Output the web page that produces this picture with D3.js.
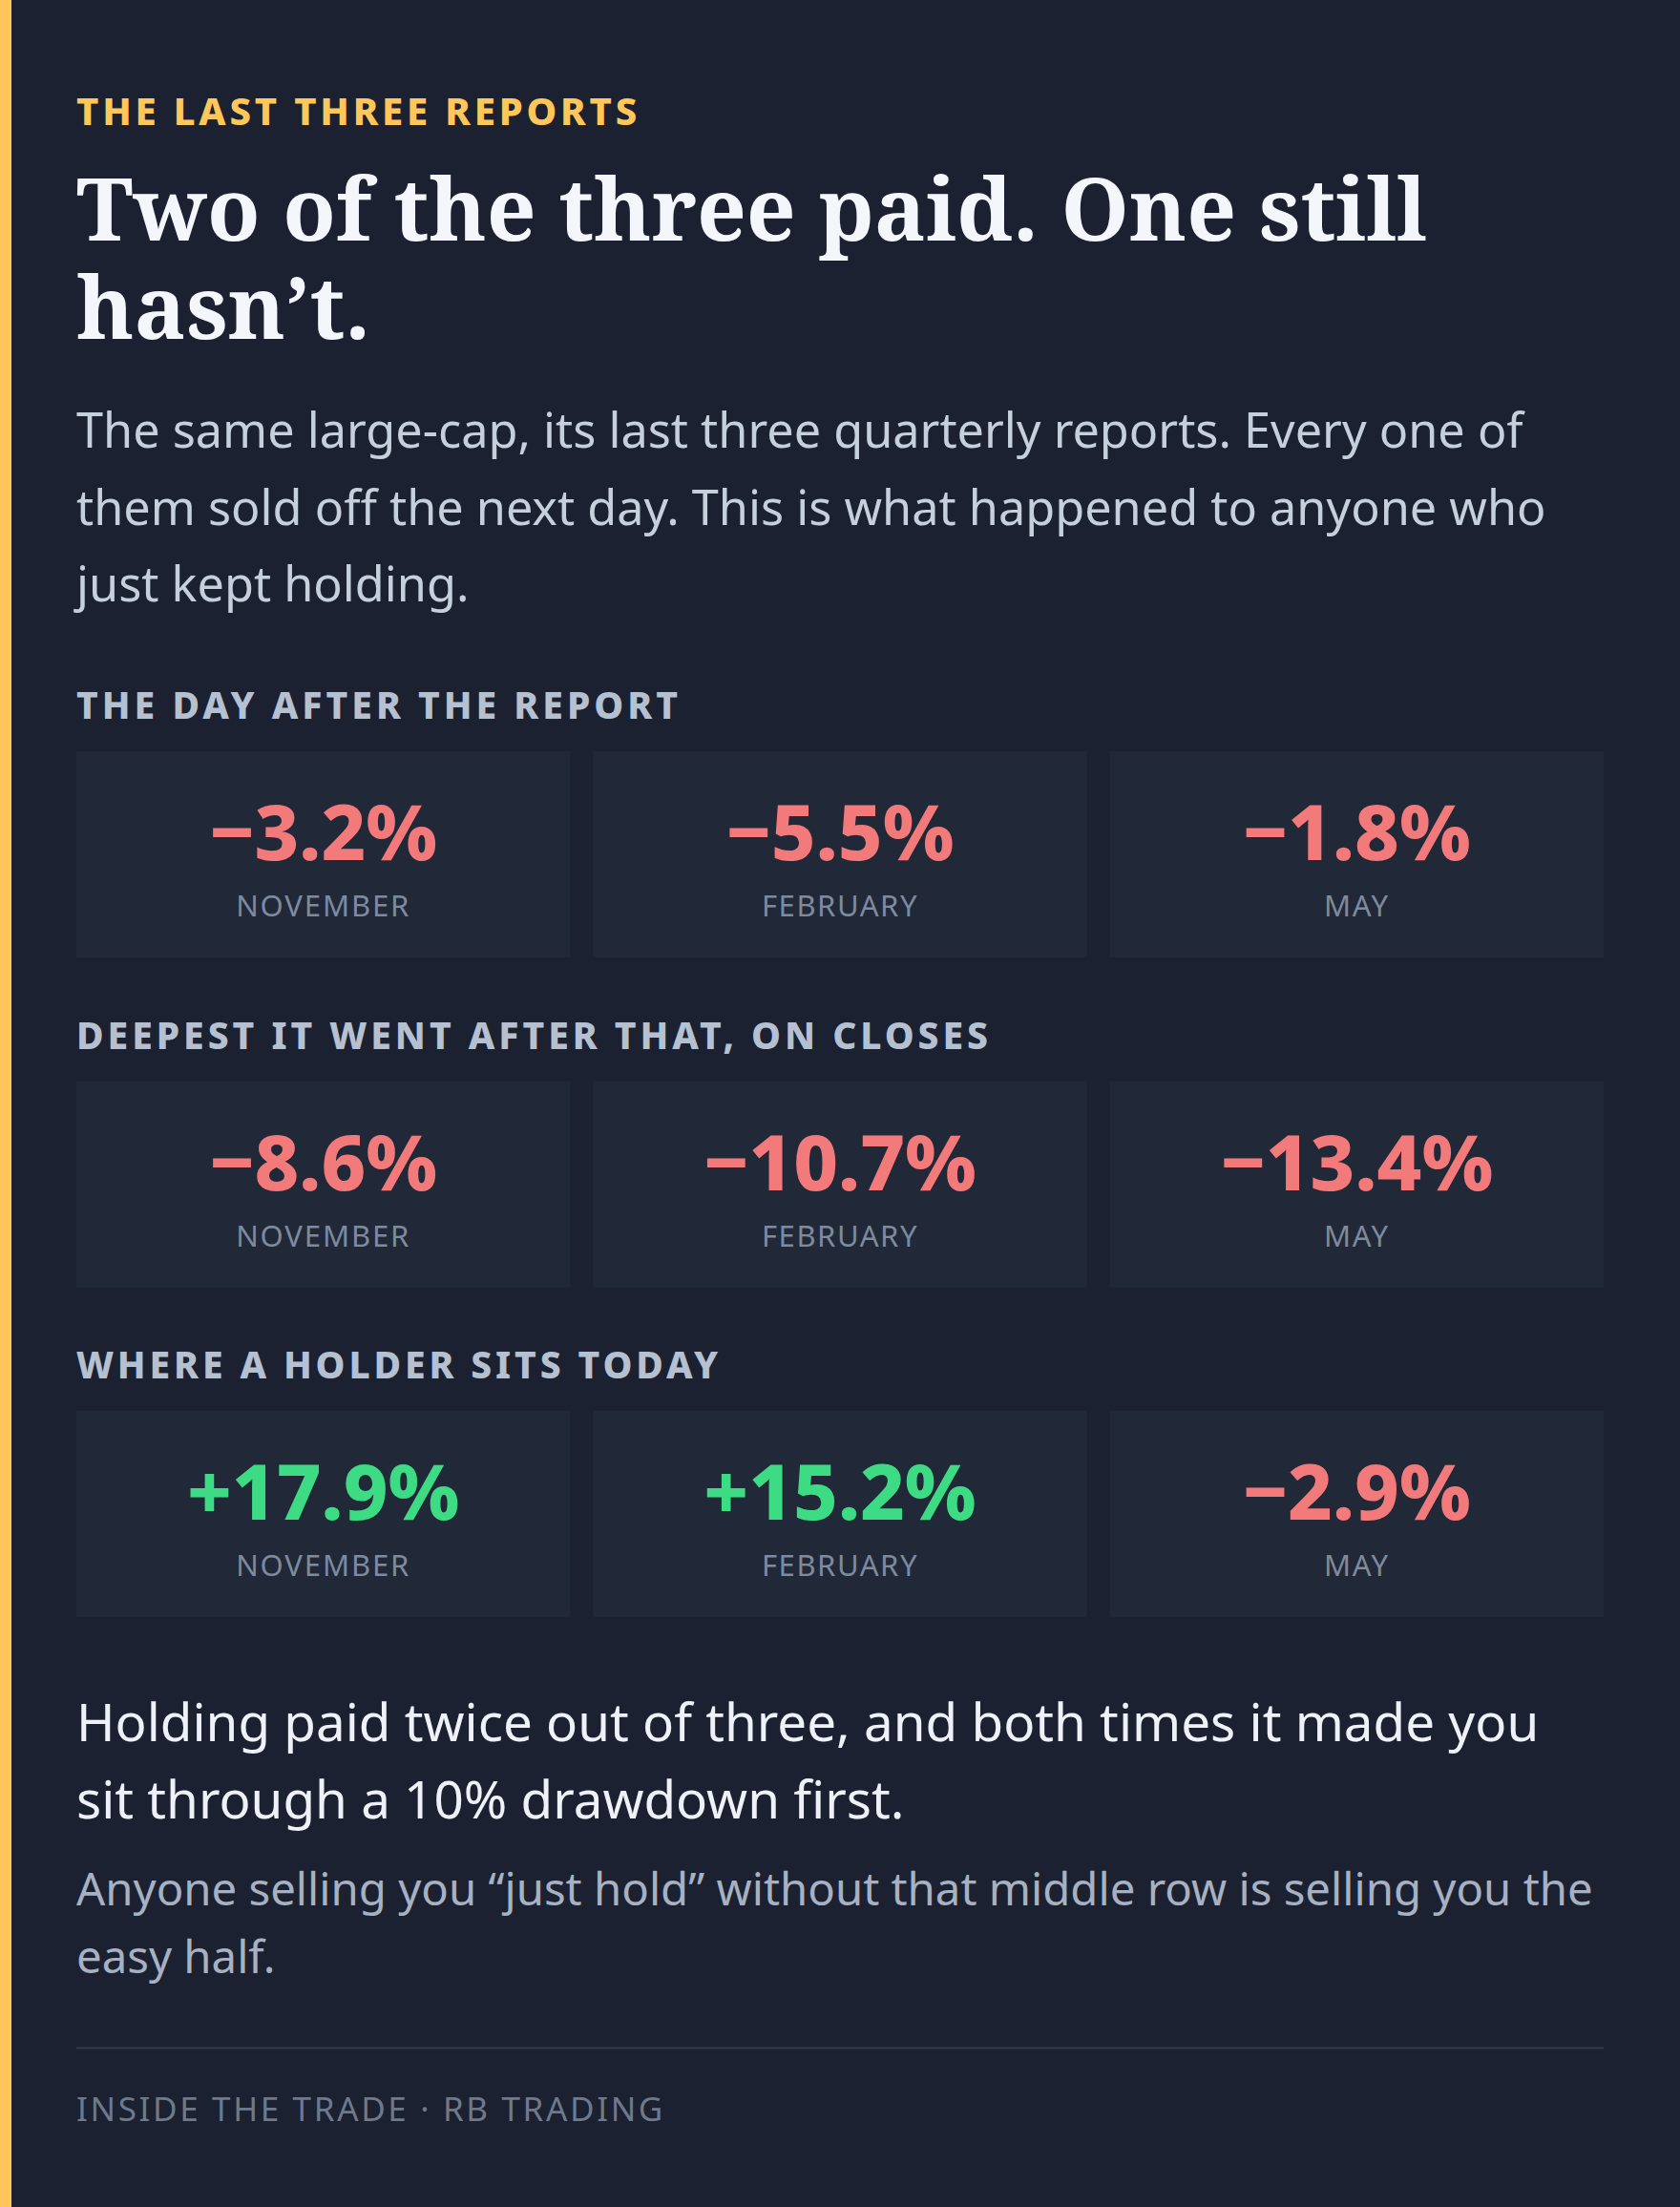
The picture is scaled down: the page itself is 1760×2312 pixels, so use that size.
<!DOCTYPE html>
<html>
<head>
<meta charset="utf-8">
<script src="https://cdn.jsdelivr.net/npm/d3@7/dist/d3.min.js"></script>
<style>
html,body{margin:0;padding:0;background:#1b2130;}
svg{display:block;}
</style>
</head>
<body>
<svg id="chart" width="1760" height="2312"></svg>
<script>
// ---------- data ----------
const eyebrow = "THE LAST THREE REPORTS";
const titleLines = ["Two of the three paid. One still", "hasn’t."];
const introLines = [
  "The same large-cap, its last three quarterly reports. Every one of",
  "them sold off the next day. This is what happened to anyone who",
  "just kept holding."
];
const months = ["NOVEMBER", "FEBRUARY", "MAY"];
const rowLabels = [
  "THE DAY AFTER THE REPORT",
  "DEEPEST IT WENT AFTER THAT, ON CLOSES",
  "WHERE A HOLDER SITS TODAY"
];
const dayAfter = [-3.2, -5.5, -1.8];
const deepest = [-8.6, -10.7, -13.4];
const today = [17.9, 15.2, -2.9];
const conclusionLines = [
  "Holding paid twice out of three, and both times it made you",
  "sit through a 10% drawdown first."
];
const kickerLines = [
  "Anyone selling you “just hold” without that middle row is selling you the",
  "easy half."
];
const footer = "INSIDE THE TRADE · RB TRADING";

// ---------- setup ----------
const W = 1760, H = 2312;
const svg = d3.select("#chart");
const SANS = "'Noto Sans', 'Open Sans', sans-serif";
const SERIF = "Georgia, 'Noto Serif', 'DejaVu Serif', serif";
const C = {
  bg: "#1b2130", card: "#212939", accent: "#ffc75a", title: "#f3f6fb",
  intro: "#c6cfdc", label: "#b5c0d1", neg: "#f27a7a", pos: "#3ddc84",
  month: "#7e8a9e", concl: "#eef2f8", kicker: "#a7b1c1", rule: "#323b4d", foot: "#6e798c"
};

svg.append("rect").attr("width", W).attr("height", H).attr("fill", C.bg);
svg.append("rect").attr("width", 12).attr("height", H).attr("fill", C.accent);

const left = 80, right = 1680;

function fitSize(sel, target) {
  const n = sel.node();
  let fs = +sel.attr("font-size");
  for (let i = 0; i < 3; i++) {
    const w = n.getComputedTextLength();
    if (!w) break;
    fs *= target / w;
    sel.attr("font-size", fs);
  }
  return fs;
}
function fitSpacing(sel, target) {
  const n = sel.node();
  const len = sel.text().length;
  let ls = 0;
  for (let i = 0; i < 4; i++) {
    sel.attr("letter-spacing", ls);
    const w = n.getBBox().width;
    ls += (target - w) / (len - 1);
  }
  sel.attr("letter-spacing", ls);
  return ls;
}
function paragraph(lines, opts) {
  const g = svg.append("g");
  const texts = lines.map((t, i) => g.append("text")
    .attr("x", left).attr("y", opts.y0 + i * opts.lh)
    .attr("font-family", opts.family).attr("font-weight", opts.weight || 400)
    .attr("font-size", opts.size).attr("fill", opts.color).text(t));
  const fs = fitSize(texts[0], opts.target);
  texts.forEach(t => t.attr("font-size", fs));
  return texts;
}

// eyebrow
const eb = svg.append("text").attr("x", left).attr("y", 131)
  .attr("font-family", SANS).attr("font-weight", 800).attr("font-size", 40)
  .attr("fill", C.accent).text(eyebrow);
fitSpacing(eb, 591);

// title
paragraph(titleLines, {y0: 252, lh: 103, family: SERIF, weight: 700, size: 88, color: C.title, target: 1415});

// intro
paragraph(introLines, {y0: 469, lh: 80.5, family: SANS, size: 50, color: C.intro, target: 1516});

// ---------- cards ----------
const x = d3.scaleBand().domain(months).range([left, right]).paddingInner(24 / 541.333).paddingOuter(0);
const rowsData = [dayAfter, deepest, today];
const y = d3.scaleLinear().domain([0, 1]).range([753, 753 + 345.5]);
const fmt = v => (v < 0 ? "−" : "+") + d3.format(".1f")(Math.abs(v)) + "%";
const monthWidths = {NOVEMBER: 183, FEBRUARY: 164, MAY: 69};

let valueSize = null;
rowsData.forEach((vals, r) => {
  const base = y(r);
  const lab = svg.append("text").attr("x", left).attr("y", base)
    .attr("font-family", SANS).attr("font-weight", 800).attr("font-size", 39)
    .attr("fill", C.label).text(rowLabels[r]);
  fitSpacing(lab, [634, 959, 676][r]);

  const top = base + 34;
  const g = svg.append("g");
  const cells = g.selectAll("g").data(months.map((m, i) => ({m, v: vals[i]}))).join("g")
    .attr("transform", d => `translate(${x(d.m)},${top})`);
  cells.append("rect").attr("width", x.bandwidth()).attr("height", 216).attr("fill", C.card);
  const vt = cells.append("text").attr("x", x.bandwidth() / 2).attr("y", 114)
    .attr("text-anchor", "middle").attr("font-family", SANS).attr("font-weight", 800)
    .attr("font-size", 82).attr("fill", d => d.v < 0 ? C.neg : C.pos).text(d => fmt(d.v));
  if (valueSize === null) {
    valueSize = fitSize(d3.select(vt.nodes()[0]), 239);
  }
  vt.attr("font-size", valueSize);
  const mt = cells.append("text").attr("x", x.bandwidth() / 2).attr("y", 173)
    .attr("text-anchor", "middle").attr("font-family", SANS).attr("font-weight", 400)
    .attr("font-size", 31).attr("fill", C.month).text(d => d.m);
  mt.each(function() {
    const s = d3.select(this);
    fitSpacing(s, monthWidths[s.text()]);
  });
});

// conclusion
paragraph(conclusionLines, {y0: 1824, lh: 81, family: SANS, size: 56, color: C.concl, target: 1532});
paragraph(kickerLines, {y0: 1995.5, lh: 71.5, family: SANS, size: 49, color: C.kicker, target: 1588});

// rule
svg.append("line").attr("x1", left).attr("x2", right).attr("y1", 2145.5).attr("y2", 2145.5)
  .attr("stroke", C.rule).attr("stroke-width", 2);

// footer
const ft = svg.append("text").attr("x", left).attr("y", 2221.5)
  .attr("font-family", SANS).attr("font-weight", 400).attr("font-size", 35)
  .attr("fill", C.foot).text(footer);
fitSpacing(ft, 617);
</script>
</body>
</html>
